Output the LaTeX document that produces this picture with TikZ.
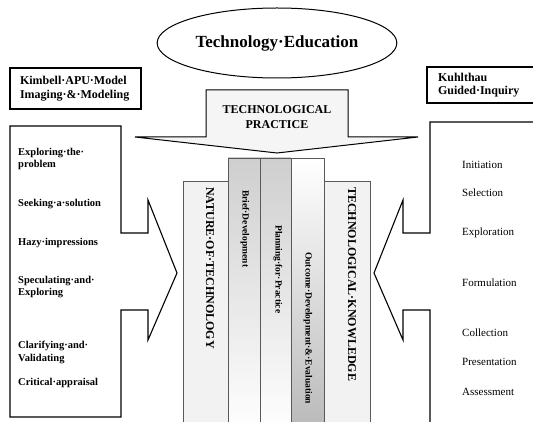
\documentclass[tikz,border=0pt]{standalone}
\usepackage{fontspec}
\setmainfont{Liberation Serif}
\usetikzlibrary{shapes}
\tikzset{
    headBox/.style={draw, line width=1.1pt, inner sep=0pt, align=left,
        font=\fontsize{12}{13.5}\selectfont\bfseries},
    colEdge/.style={draw=gray!70!black, line width=0.6pt},
    colText/.style={rotate=-90, anchor=west, inner sep=0pt,
        font=\fontsize{12}{14}\selectfont\bfseries},
    stageText/.style={rotate=-90, anchor=west, inner sep=0pt,
        font=\fontsize{9.5}{11}\selectfont\bfseries},
    leftItem/.style={anchor=north west, inner sep=0pt, align=left,
        font=\fontsize{10.5}{12.5}\selectfont\bfseries},
    rightItem/.style={anchor=north west, inner sep=0pt,
        font=\fontsize{11}{13}\selectfont}
}

\begin{document}
\begin{tikzpicture}[x=1pt,y=-1pt]
        \useasboundingbox (0,0) rectangle (533,422);
        \node[ellipse, draw, line width=1pt, minimum width=211, minimum height=70,
            font=\fontsize{17}{20}\selectfont\bfseries] (title) at (277,43) {Technology·Education};
        \node[headBox, minimum width=131, minimum height=41, text width=111] (kimbell) at (75.5,88.5) {Kimbell·APU·Model\\Imaging·\&·Modeling};
        \node[headBox, minimum width=118, minimum height=36, text width=96] (kuhlthau) at (486,85) {Kuhlthau\\Guided·Inquiry};
        % practice arrow
        \draw[line width=1pt, fill=gray!8] (206,90) -- (348,90) -- (348,137) -- (418,137) -- (277,153) -- (135,137) -- (206,137) -- cycle;
        \node[align=center, font=\fontsize{12}{15}\selectfont\bfseries] (practice) at (277,117) {TECHNOLOGICAL\\PRACTICE};
        % columns
        \draw[colEdge, fill=gray!10] (183,181) rectangle (228,432);
        \draw[colEdge, top color=gray!38, middle color=gray!8, bottom color=white] (228,158) rectangle (260,432);
        \draw[colEdge, top color=gray!38, middle color=gray!8, bottom color=white] (260,158) rectangle (291,432);
        \draw[colEdge, top color=white, middle color=gray!20, bottom color=gray!55] (291,158) rectangle (324,432);
        \draw[colEdge, fill=gray!10] (324,181) rectangle (370,432);
        \node[colText] (nature) at (210,187) {NATURE·OF·TECHNOLOGY};
        \node[stageText] (brief) at (245,190) {Brief·Development};
        \node[stageText] (planning) at (278,225) {Planning·for·Practice};
        \node[stageText] (outcome) at (308,252) {Outcome·Development·\&·Evaluation};
        \node[colText] (knowledge) at (352,187) {TECHNOLOGICAL·KNOWLEDGE};
        % side arrows
        \draw[line width=1.1pt] (10,126) -- (121,126) -- (121,233) -- (148,233) -- (148,200) -- (177,273) -- (148,340) -- (148,310) -- (121,310) -- (121,417) -- (10,417) -- cycle;
        \draw[line width=1.1pt] (545,122) -- (430,122) -- (430,233) -- (403,233) -- (403,200) -- (374,273) -- (403,340) -- (403,310) -- (430,310) -- (430,430);
        % Kimbell stages
        \node[leftItem] (explore) at (18,148) {Exploring·the·\\problem};
        \node[leftItem] (seek) at (18,199) {Seeking·a·solution};
        \node[leftItem] (hazy) at (18,238) {Hazy·impressions};
        \node[leftItem] (speculate) at (18,276) {Speculating·and·\\Exploring};
        \node[leftItem] (clarify) at (18,341) {Clarifying·and·\\Validating};
        \node[leftItem] (critical) at (18,378) {Critical·appraisal};
        % Kuhlthau stages
        \node[rightItem] (initiation) at (462,161) {Initiation};
        \node[rightItem] (selection) at (462,189) {Selection};
        \node[rightItem] (exploration) at (462,228) {Exploration};
        \node[rightItem] (formulation) at (462,279) {Formulation};
        \node[rightItem] (collection) at (462,329) {Collection};
        \node[rightItem] (presentation) at (462,358) {Presentation};
        \node[rightItem] (assessment) at (462,388) {Assessment};
\end{tikzpicture}
\end{document}
